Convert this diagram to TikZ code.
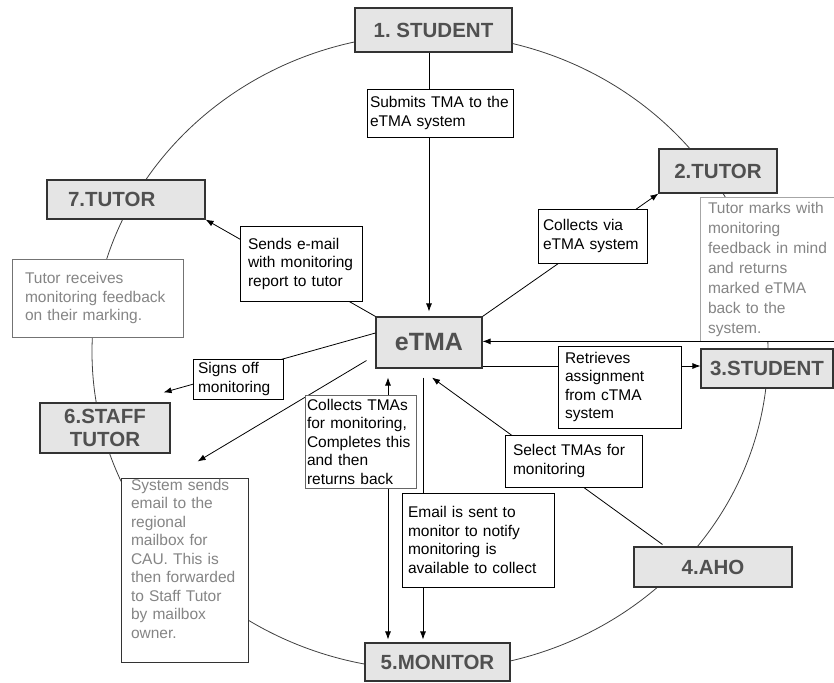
\documentclass[tikz,border=0pt]{standalone}
\usepackage{fontspec}
\setmainfont{Liberation Sans}
\usetikzlibrary{arrows.meta,shapes.geometric}
\definecolor{boxgrey}{HTML}{E5E5E5}
\definecolor{titlegrey}{HTML}{505050}
\definecolor{notegrey}{HTML}{858585}
\begin{document}
\begin{tikzpicture}
    [x=1pt,y=-1pt,inner sep=0pt,line width=0.8pt,>={Latex[length=8pt,width=6pt]},
     stage/.style={rectangle,draw=black!80,fill=boxgrey,line width=1.1pt,text=titlegrey,
       font=\fontsize{20.5}{23}\selectfont\bfseries,align=center},
     note/.style={rectangle,draw=black!55,fill=white,text=notegrey,align=left,
       font=\fontsize{15.5}{18.5}\selectfont},
     action/.style={rectangle,draw=black,fill=white,text=black,align=left,
       font=\fontsize{15.5}{18.5}\selectfont}]
    \useasboundingbox (0, 0) rectangle (834, 682);
    \node (cycle) at (430, 352) [ellipse,draw=black!75,minimum width=676,minimum height=636] {};
    \node (student1) at (433.5, 30) [stage,minimum width=157,minimum height=44] {1.\ STUDENT};
    \node (tutor2) at (718, 171) [stage,minimum width=118,minimum height=44] {2.TUTOR};
    \node (student3) at (767, 368.5) [stage,minimum width=132,minimum height=39] {3.STUDENT};
    \node (aho4) at (713, 567) [stage,minimum width=158,minimum height=40] {4.AHO};
    \node (monitor5) at (437.5, 662) [stage,minimum width=145,minimum height=38] {5.MONITOR};
    \node (staff6) at (105, 428) [stage,minimum width=130,minimum height=50] {6.STAFF\\TUTOR};
    \node (tutor7) at (126, 199.5) [stage,minimum width=158,minimum height=39,text width=116,align=left] {7.TUTOR};
    \node (etma) at (429, 342.5) [stage,minimum width=106,minimum height=51,font=\fontsize{25}{28}\selectfont\bfseries] {eTMA};
    \node (receives) at (97.5, 298) [note,inner xsep=13,text width=145,minimum height=78]
      {Tutor receives\\monitoring feedback\\on their marking.};
    \node (marks) at (767.5, 269) [note,draw=black!35,inner xsep=8,text width=119,minimum height=144,
      font=\fontsize{15.5}{20}\selectfont]
      {Tutor marks with\\monitoring\\feedback in mind\\and returns\\marked eTMA\\back to the\\system.};
    \node (sysmail) at (184.5, 570.5) [note,draw=black!80,inner xsep=10,text width=107,minimum height=183]
      {System sends\\email to the\\regional\\mailbox for\\CAU. This is\\then forwarded\\to Staff Tutor\\by mailbox\\owner.\\ \strut};
    \draw [->,shorten >=5] (etma.north |- student1.south) to (etma.north);
    \draw [->] (etma.north east) to (tutor2.south west);
    \draw [->] (marks.south east) to (marks.south east -| etma.east);
    \draw [->] ([shift={(0,23.5)}]etma.east) to ([shift={(0,23.5)}]etma.east -| student3.west);
    \draw [->] ([shift={(29,-2)}]aho4.north west) to ([shift={(3,9)}]etma.south);
    \draw [<->,shorten <=9,shorten >=3] ([shift={(-41,0)}]etma.south) to ([shift={(-41,0)}]etma.south |- monitor5.north);
    \draw [->,shorten <=9,shorten >=3] ([shift={(-6,0)}]etma.south) to ([shift={(-6,0)}]etma.south |- monitor5.north);
    \draw [->] ([shift={(-9,-8)}]etma.south west) to ([shift={(77,-17)}]sysmail.north west);
    \draw [->] ([shift={(0,-9.5)}]etma.west) to ([shift={(-7,-10)}]staff6.north east);
    \draw [->] (etma.north west) to (tutor7.south east);
    \node (submits) at (440, 113) [action,inner xsep=3,text width=140,minimum height=48]
      {Submits TMA to the\\eTMA system};
    \node (collvia) at (592.5, 236) [action,inner xsep=5,text width=99,minimum height=54]
      {Collects via\\eTMA system};
    \node (retrieves) at (619.5, 387) [action,inner xsep=7,text width=109,minimum height=82]
      {Retrieves\\assignment\\from cTMA\\system};
    \node (select) at (573.5, 461) [action,inner xsep=8,text width=121,minimum height=52]
      {Select TMAs for\\monitoring};
    \node (email) at (478, 540) [action,inner xsep=6,text width=140,minimum height=94]
      {Email is sent to\\monitor to notify\\monitoring is\\available to collect};
    \node (collects) at (360.5, 441.5) [action,draw=black!60,inner xsep=2,text width=107,minimum height=93]
      {Collects TMAs\\for monitoring,\\Completes this\\and then\\returns back};
    \node (signs) at (238, 379) [action,inner xsep=5,text width=80,minimum height=40]
      {Signs off\\monitoring};
    \node (sends) at (301, 263.5) [action,inner xsep=8,text width=106,minimum height=75]
      {Sends e-mail\\with monitoring\\report to tutor};
\end{tikzpicture}
\end{document}
